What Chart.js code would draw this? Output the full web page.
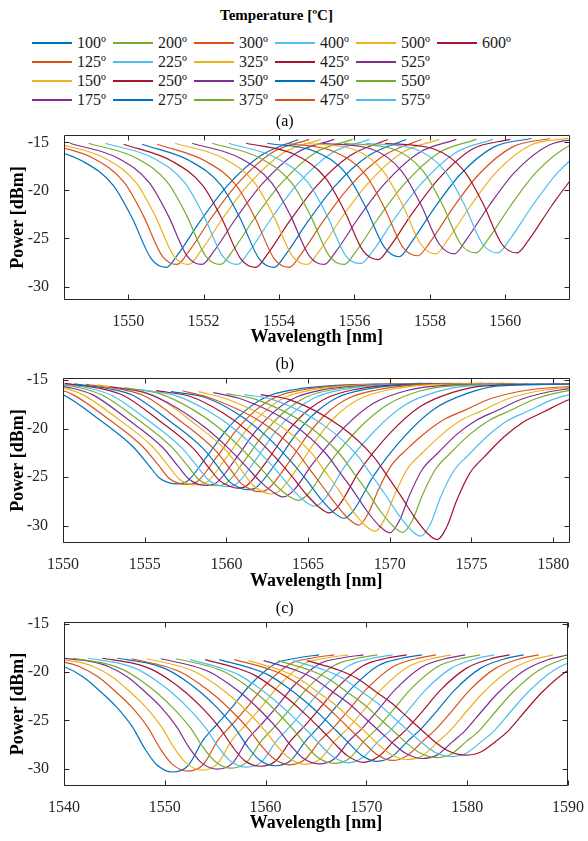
<!DOCTYPE html>
<html>
<head>
<meta charset="utf-8">
<script src="https://cdn.jsdelivr.net/npm/chart.js@4.4.1/dist/chart.umd.min.js"></script>
<style>
  body { margin: 0; width: 588px; height: 841px; background: #fff; position: relative; overflow: hidden;
         font-family: 'Liberation Serif', 'Times New Roman', serif; color: #000; }
  #legTitle { position: absolute; top: 5px; left: 0; width: 553px; text-align: center;
              font-weight: bold; font-size: 15px; line-height: 20px; }
  #legend { position: absolute; left: 32px; top: 33px; display: grid;
            grid-template-columns: repeat(6, 81px); grid-template-rows: repeat(4, 19px);
            grid-auto-flow: column; font-size: 16px; color: #1a1a1a; }
  .item { display: flex; align-items: center; white-space: nowrap; height: 19px; }
  .sw { width: 40px; height: 2px; margin-right: 5px; flex: none; position: relative; top: 0.5px; }
  canvas { position: absolute; left: 0; }
</style>
</head>
<body>
<div id="legTitle">Temperature [ºC]</div>
<div id="legend"></div>
<canvas id="chartA" width="588" height="239" style="top:109px"></canvas>
<canvas id="chartB" width="588" height="240" style="top:352px"></canvas>
<canvas id="chartC" width="588" height="238" style="top:596px"></canvas>
<script>
const temps = [100, 125, 150, 175, 200, 225, 250, 275, 300, 325, 350, 375, 400, 425, 450, 475, 500, 525, 550, 575, 600];
const colors = ['#0072BD', '#D95319', '#EDB120', '#7E2F8E', '#77AC30', '#4DBEEE', '#A2142F'];

// panel (a)
const aTicksX = [1550, 1552, 1554, 1556, 1558, 1560];
const aTicksY = [-30, -25, -20, -15];
const aWave = [
  [1547.51, 1548.81, 1549.61, 1550.11, 1550.61, 1551.01, 1551.31, 1551.91, 1552.61, 1553.51, 1554.51],
  [1547.80, 1549.10, 1549.90, 1550.40, 1550.90, 1551.30, 1551.60, 1552.20, 1552.90, 1553.80, 1554.80],
  [1548.11, 1549.41, 1550.21, 1550.71, 1551.21, 1551.61, 1551.91, 1552.51, 1553.21, 1554.11, 1555.11],
  [1548.46, 1549.76, 1550.56, 1551.06, 1551.56, 1551.96, 1552.26, 1552.86, 1553.56, 1554.46, 1555.46],
  [1548.95, 1550.25, 1551.05, 1551.55, 1552.05, 1552.45, 1552.75, 1553.35, 1554.05, 1554.95, 1555.95],
  [1549.40, 1550.70, 1551.50, 1552.00, 1552.50, 1552.90, 1553.20, 1553.80, 1554.50, 1555.40, 1556.40],
  [1549.88, 1551.18, 1551.98, 1552.48, 1552.98, 1553.38, 1553.68, 1554.28, 1554.98, 1555.88, 1556.88],
  [1550.37, 1551.67, 1552.47, 1552.97, 1553.47, 1553.87, 1554.17, 1554.77, 1555.47, 1556.37, 1557.37],
  [1550.77, 1552.07, 1552.87, 1553.37, 1553.87, 1554.27, 1554.57, 1555.17, 1555.87, 1556.77, 1557.77],
  [1551.25, 1552.55, 1553.35, 1553.85, 1554.35, 1554.75, 1555.05, 1555.65, 1556.35, 1557.25, 1558.25],
  [1551.70, 1553.00, 1553.80, 1554.30, 1554.80, 1555.20, 1555.50, 1556.10, 1556.80, 1557.70, 1558.70],
  [1552.23, 1553.53, 1554.33, 1554.83, 1555.33, 1555.73, 1556.03, 1556.63, 1557.33, 1558.23, 1559.23],
  [1552.67, 1553.97, 1554.77, 1555.27, 1555.77, 1556.17, 1556.47, 1557.07, 1557.77, 1558.67, 1559.67],
  [1553.13, 1554.43, 1555.23, 1555.73, 1556.23, 1556.63, 1556.93, 1557.53, 1558.23, 1559.13, 1560.13],
  [1553.69, 1554.99, 1555.79, 1556.29, 1556.79, 1557.19, 1557.49, 1558.09, 1558.79, 1559.69, 1560.69],
  [1554.18, 1555.48, 1556.28, 1556.78, 1557.28, 1557.68, 1557.98, 1558.58, 1559.28, 1560.18, 1561.18],
  [1554.66, 1555.96, 1556.76, 1557.26, 1557.76, 1558.16, 1558.46, 1559.06, 1559.76, 1560.66, 1561.66],
  [1555.15, 1556.45, 1557.25, 1557.75, 1558.25, 1558.65, 1558.95, 1559.55, 1560.25, 1561.15, 1562.15],
  [1555.72, 1557.02, 1557.82, 1558.32, 1558.82, 1559.22, 1559.52, 1560.12, 1560.82, 1561.72, 1562.72],
  [1556.30, 1557.60, 1558.40, 1558.90, 1559.40, 1559.80, 1560.10, 1560.70, 1561.40, 1562.30, 1563.30],
  [1556.81, 1558.11, 1558.91, 1559.41, 1559.91, 1560.31, 1560.61, 1561.21, 1561.91, 1562.81, 1563.81]
];
const aPower = [
  [-15.2, -17.0, -19.5, -22.9, -27.1, -28.0, -26.7, -23.2, -19.6, -16.4, -14.7],
  [-15.1, -16.7, -19.2, -22.6, -26.8, -27.7, -26.4, -22.9, -19.3, -16.1, -14.7],
  [-15.1, -16.7, -19.2, -22.6, -26.8, -27.7, -26.4, -22.9, -19.3, -16.1, -14.7],
  [-15.1, -16.7, -19.2, -22.6, -26.8, -27.7, -26.4, -22.9, -19.3, -16.1, -14.7],
  [-15.1, -16.7, -19.2, -22.6, -26.8, -27.7, -26.4, -22.9, -19.3, -16.1, -14.7],
  [-15.1, -16.7, -19.2, -22.6, -26.8, -27.7, -26.4, -22.9, -19.3, -16.1, -14.7],
  [-15.2, -17.0, -19.5, -22.9, -27.1, -28.0, -26.7, -23.2, -19.6, -16.4, -14.7],
  [-15.2, -17.0, -19.5, -22.9, -27.1, -28.0, -26.7, -23.2, -19.6, -16.4, -14.7],
  [-15.2, -17.0, -19.5, -22.9, -27.1, -28.0, -26.7, -23.2, -19.6, -16.4, -14.7],
  [-15.1, -16.7, -19.2, -22.6, -26.8, -27.7, -26.4, -22.9, -19.3, -16.1, -14.7],
  [-15.1, -16.7, -19.2, -22.6, -26.8, -27.7, -26.4, -22.9, -19.3, -16.1, -14.7],
  [-15.1, -16.7, -19.2, -22.6, -26.8, -27.7, -26.4, -22.9, -19.3, -16.1, -14.7],
  [-15.1, -16.7, -19.2, -22.6, -26.8, -27.6, -26.4, -22.9, -19.3, -16.1, -14.7],
  [-15.1, -16.3, -18.7, -22.1, -26.3, -27.2, -25.9, -22.4, -18.8, -15.7, -14.7],
  [-15.1, -16.0, -18.3, -21.7, -25.9, -26.9, -25.5, -22.0, -18.4, -15.5, -14.6],
  [-15.1, -16.0, -18.3, -21.7, -25.9, -26.8, -25.5, -22.0, -18.4, -15.5, -14.6],
  [-15.1, -15.7, -18.0, -21.4, -25.6, -26.6, -25.2, -21.7, -18.1, -15.3, -14.6],
  [-15.1, -15.7, -18.0, -21.4, -25.6, -26.6, -25.2, -21.7, -18.1, -15.3, -14.6],
  [-15.1, -15.7, -18.0, -21.4, -25.6, -26.5, -25.2, -21.7, -18.1, -15.3, -14.6],
  [-15.1, -15.7, -18.0, -21.4, -25.6, -26.5, -25.2, -21.7, -18.1, -15.3, -14.6],
  [-15.1, -15.7, -18.0, -21.4, -25.6, -26.5, -25.2, -21.7, -18.1, -15.3, -14.6]
];

// panel (b)
const bTicksX = [1550, 1555, 1560, 1565, 1570, 1575, 1580];
const bTicksY = [-30, -25, -20, -15];
const bWave = [
  [1546.4, 1548.5, 1550.0, 1552.2, 1554.3, 1555.3, 1555.9, 1556.5, 1557.0, 1557.5, 1558.8, 1560.0, 1561.2, 1562.5, 1564.1, 1566.7, 1572.0],
  [1547.0, 1549.1, 1550.6, 1552.8, 1554.9, 1555.9, 1556.5, 1557.1, 1557.6, 1558.1, 1559.4, 1560.6, 1561.8, 1563.1, 1564.7, 1567.3, 1572.6],
  [1547.6, 1549.7, 1551.2, 1553.4, 1555.5, 1556.5, 1557.1, 1557.7, 1558.2, 1558.7, 1560.0, 1561.2, 1562.4, 1563.7, 1565.3, 1567.9, 1573.2],
  [1548.2, 1550.3, 1551.8, 1554.0, 1556.1, 1557.1, 1557.7, 1558.3, 1558.8, 1559.3, 1560.6, 1561.8, 1563.0, 1564.3, 1565.9, 1568.5, 1573.8],
  [1548.8, 1550.9, 1552.4, 1554.6, 1556.7, 1557.7, 1558.3, 1558.9, 1559.4, 1559.9, 1561.2, 1562.4, 1563.6, 1564.9, 1566.5, 1569.1, 1574.4],
  [1549.4, 1551.5, 1553.0, 1555.2, 1557.3, 1558.3, 1558.9, 1559.5, 1560.0, 1560.5, 1561.8, 1563.0, 1564.2, 1565.5, 1567.1, 1569.7, 1575.0],
  [1550.1, 1552.2, 1553.7, 1555.9, 1558.0, 1559.0, 1559.6, 1560.2, 1560.7, 1561.2, 1562.5, 1563.7, 1564.9, 1566.2, 1567.8, 1570.4, 1575.7],
  [1550.7, 1552.8, 1554.3, 1556.5, 1558.6, 1559.6, 1560.2, 1560.8, 1561.3, 1561.8, 1563.1, 1564.3, 1565.5, 1566.8, 1568.4, 1571.0, 1576.3],
  [1551.4, 1553.5, 1555.0, 1557.2, 1559.3, 1560.3, 1560.9, 1561.5, 1562.0, 1562.5, 1563.8, 1565.0, 1566.2, 1567.5, 1569.1, 1571.7, 1577.0],
  [1552.1, 1554.2, 1555.7, 1557.9, 1560.0, 1561.0, 1561.6, 1562.2, 1562.7, 1563.2, 1564.5, 1565.7, 1566.9, 1568.2, 1569.8, 1572.4, 1577.7],
  [1552.9, 1555.0, 1557.0, 1558.7, 1560.1, 1561.2, 1562.1, 1562.9, 1563.5, 1564.1, 1565.3, 1567.2, 1569.0, 1571.0, 1573.0, 1578.5],
  [1553.8, 1555.9, 1557.9, 1559.6, 1561.0, 1562.1, 1563.0, 1563.8, 1564.4, 1565.0, 1566.2, 1568.1, 1569.9, 1571.9, 1573.9, 1579.4],
  [1554.8, 1556.9, 1558.9, 1560.6, 1562.0, 1563.1, 1564.0, 1564.8, 1565.4, 1566.0, 1567.2, 1569.1, 1570.9, 1572.9, 1574.9, 1580.4],
  [1555.7, 1557.8, 1559.8, 1561.5, 1562.9, 1564.0, 1564.9, 1565.7, 1566.3, 1566.9, 1568.1, 1570.0, 1571.8, 1573.8, 1575.8, 1581.3],
  [1556.6, 1558.7, 1560.7, 1562.4, 1563.8, 1564.9, 1565.8, 1566.6, 1567.2, 1567.8, 1569.0, 1570.9, 1572.7, 1574.7, 1576.7, 1582.2],
  [1557.3, 1559.1, 1562.2, 1564.2, 1565.1, 1565.9, 1566.7, 1567.5, 1568.1, 1568.7, 1569.3, 1570.1, 1571.0, 1572.2, 1573.4, 1574.6, 1576.2, 1578.6, 1583.1],
  [1558.3, 1560.1, 1563.2, 1565.2, 1566.1, 1566.9, 1567.7, 1568.5, 1569.1, 1569.7, 1570.3, 1571.1, 1572.0, 1573.2, 1574.4, 1575.6, 1577.2, 1579.6, 1584.1],
  [1559.2, 1561.0, 1564.1, 1566.1, 1567.0, 1567.8, 1568.6, 1569.4, 1570.0, 1570.6, 1571.2, 1572.0, 1572.9, 1574.1, 1575.3, 1576.5, 1578.1, 1580.5, 1585.0],
  [1560.0, 1561.8, 1564.9, 1566.9, 1567.8, 1568.6, 1569.4, 1570.2, 1570.8, 1571.4, 1572.0, 1572.8, 1573.7, 1574.9, 1576.1, 1577.3, 1578.9, 1581.3, 1585.8],
  [1561.1, 1562.9, 1566.0, 1568.0, 1568.9, 1569.7, 1570.5, 1571.3, 1571.9, 1572.5, 1573.1, 1573.9, 1574.8, 1576.0, 1577.2, 1578.4, 1580.0, 1582.4, 1586.9],
  [1562.1, 1563.9, 1567.0, 1569.0, 1569.9, 1570.7, 1571.5, 1572.3, 1572.9, 1573.5, 1574.1, 1574.9, 1575.8, 1577.0, 1578.2, 1579.4, 1581.0, 1583.4, 1587.9]
];
const bPower = [
  [-15.2, -15.7, -16.5, -19.05, -21.9, -23.9, -25.1, -25.6, -25.7, -25.55, -22.9, -20.15, -18.1, -16.7, -16.0, -15.55, -15.35],
  [-15.2, -15.7, -16.5, -19.05, -21.9, -23.9, -25.15, -25.65, -25.75, -25.6, -22.95, -20.2, -18.1, -16.7, -16.0, -15.55, -15.35],
  [-15.2, -15.7, -16.5, -19.05, -21.9, -23.95, -25.2, -25.7, -25.8, -25.65, -23.0, -20.2, -18.15, -16.7, -16.0, -15.55, -15.35],
  [-15.25, -15.75, -16.5, -19.1, -21.95, -24.0, -25.2, -25.75, -25.85, -25.7, -23.05, -20.25, -18.15, -16.75, -16.0, -15.55, -15.35],
  [-15.25, -15.75, -16.55, -19.1, -22.0, -24.0, -25.25, -25.8, -25.9, -25.75, -23.1, -20.3, -18.2, -16.75, -16.0, -15.55, -15.35],
  [-15.3, -15.8, -16.6, -19.15, -22.05, -24.1, -25.3, -25.85, -26.0, -25.85, -23.2, -20.35, -18.2, -16.75, -16.0, -15.5, -15.35],
  [-15.35, -15.85, -16.6, -19.2, -22.1, -24.2, -25.4, -25.95, -26.15, -25.95, -23.3, -20.4, -18.25, -16.8, -16.0, -15.5, -15.35],
  [-15.4, -15.9, -16.6, -19.2, -22.1, -24.2, -25.5, -26.1, -26.3, -26.1, -23.4, -20.5, -18.3, -16.8, -16.0, -15.5, -15.35],
  [-15.45, -15.95, -16.65, -19.25, -22.2, -24.35, -25.65, -26.3, -26.5, -26.3, -23.55, -20.6, -18.35, -16.85, -16.05, -15.5, -15.35],
  [-15.5, -16.0, -16.7, -19.3, -22.3, -24.5, -25.8, -26.5, -26.75, -26.5, -23.7, -20.7, -18.4, -16.9, -16.05, -15.5, -15.35],
  [-15.7, -16.3, -17.9, -19.9, -22.0, -23.9, -25.5, -26.6, -27.05, -26.4, -23.6, -19.9, -17.4, -16.1, -15.6, -15.4],
  [-15.8, -16.4, -18.0, -20.0, -22.2, -24.1, -25.8, -26.95, -27.4, -26.75, -23.8, -20.0, -17.5, -16.1, -15.6, -15.4],
  [-16.0, -16.6, -18.2, -20.2, -22.4, -24.4, -26.2, -27.5, -28.0, -27.3, -24.0, -20.2, -17.6, -16.2, -15.6, -15.4],
  [-16.1, -16.7, -18.4, -20.5, -22.8, -24.9, -26.8, -28.15, -28.7, -27.9, -24.5, -20.5, -17.8, -16.3, -15.6, -15.4],
  [-16.2, -16.8, -18.5, -20.7, -23.1, -25.3, -27.3, -28.7, -29.25, -28.4, -24.9, -20.8, -18.0, -16.4, -15.6, -15.4],
  [-16.1, -16.9, -19.4, -22.2, -24.2, -26.0, -27.8, -29.35, -29.95, -28.7, -26.3, -23.8, -22.2, -20.4, -19.0, -18.1, -16.9, -16.0, -15.5],
  [-16.2, -17.0, -19.6, -22.5, -24.55, -26.4, -28.4, -30.0, -30.6, -29.3, -26.8, -24.1, -22.5, -20.6, -19.1, -18.2, -16.95, -16.0, -15.5],
  [-16.3, -17.0, -19.6, -22.6, -24.65, -26.5, -28.5, -30.1, -30.75, -29.45, -26.9, -24.2, -22.6, -20.6, -19.15, -18.2, -16.95, -16.0, -15.5],
  [-16.4, -17.0, -19.6, -22.55, -24.6, -26.45, -28.45, -30.05, -30.7, -29.4, -26.85, -24.2, -22.55, -20.6, -19.15, -18.2, -16.95, -16.0, -15.5],
  [-16.5, -17.05, -19.7, -22.75, -24.85, -26.75, -28.8, -30.45, -31.1, -29.8, -27.1, -24.4, -22.75, -20.75, -19.2, -18.25, -17.0, -16.0, -15.55],
  [-16.5, -17.05, -19.8, -22.9, -25.0, -27.0, -29.1, -30.8, -31.45, -30.1, -27.4, -24.6, -22.9, -20.85, -19.3, -18.3, -17.0, -16.0, -15.6]
];

// panel (c)
const cTicksX = [1540, 1550, 1560, 1570, 1580, 1590];
const cTicksY = [-30, -25, -20, -15];
const cWave = [
  [1535.1, 1538.3, 1540.0, 1541.9, 1543.5, 1545.2, 1546.8, 1548.0, 1549.2, 1550.8, 1552.3, 1553.8, 1555.1, 1556.7, 1558.4, 1561.0, 1563.3, 1565.3],
  [1536.6, 1539.8, 1541.5, 1543.4, 1545.0, 1546.7, 1548.3, 1549.5, 1550.7, 1552.3, 1553.8, 1555.3, 1556.6, 1558.2, 1559.9, 1562.5, 1564.8, 1566.8],
  [1538.0, 1541.2, 1542.9, 1544.8, 1546.4, 1548.1, 1549.7, 1550.9, 1552.1, 1553.7, 1555.2, 1556.7, 1558.0, 1559.6, 1561.3, 1563.9, 1566.2, 1568.2],
  [1539.5, 1542.7, 1544.4, 1546.3, 1547.9, 1549.6, 1551.2, 1552.4, 1553.6, 1555.2, 1556.7, 1558.2, 1559.5, 1561.1, 1562.8, 1565.4, 1567.7, 1569.7],
  [1540.9, 1544.1, 1545.8, 1547.7, 1549.3, 1551.0, 1552.6, 1553.8, 1555.0, 1556.6, 1558.1, 1559.6, 1560.9, 1562.5, 1564.2, 1566.8, 1569.1, 1571.1],
  [1542.4, 1545.6, 1547.3, 1549.2, 1550.8, 1552.5, 1554.1, 1555.3, 1556.5, 1558.1, 1559.6, 1561.1, 1562.4, 1564.0, 1565.7, 1568.3, 1570.6, 1572.6],
  [1543.8, 1547.0, 1548.7, 1550.6, 1552.2, 1553.9, 1555.5, 1556.7, 1557.9, 1559.5, 1561.0, 1562.5, 1563.8, 1565.4, 1567.1, 1569.7, 1572.0, 1574.0],
  [1545.3, 1548.5, 1550.2, 1552.1, 1553.7, 1555.4, 1557.0, 1558.2, 1559.4, 1561.0, 1562.5, 1564.0, 1565.3, 1566.9, 1568.6, 1571.2, 1573.5, 1575.5],
  [1546.7, 1549.9, 1551.6, 1553.5, 1555.1, 1556.8, 1558.4, 1559.6, 1560.8, 1562.4, 1563.9, 1565.4, 1566.7, 1568.3, 1570.0, 1572.6, 1574.9, 1576.9],
  [1548.2, 1551.4, 1553.1, 1555.0, 1556.6, 1558.3, 1559.9, 1561.1, 1562.3, 1563.9, 1565.4, 1566.9, 1568.2, 1569.8, 1571.5, 1574.1, 1576.4, 1578.4],
  [1549.6, 1552.8, 1554.5, 1556.4, 1558.0, 1559.7, 1561.3, 1562.5, 1563.7, 1565.3, 1566.8, 1568.3, 1569.6, 1571.2, 1572.9, 1575.5, 1577.8, 1579.8],
  [1551.1, 1554.3, 1556.0, 1557.9, 1559.5, 1561.2, 1562.8, 1564.0, 1565.2, 1566.8, 1568.3, 1569.8, 1571.1, 1572.7, 1574.4, 1577.0, 1579.3, 1581.3],
  [1552.5, 1555.7, 1557.4, 1559.3, 1560.9, 1562.6, 1564.2, 1565.4, 1566.6, 1568.2, 1569.7, 1571.2, 1572.5, 1574.1, 1575.8, 1578.4, 1580.7, 1582.7],
  [1554.0, 1557.2, 1558.9, 1560.8, 1562.4, 1564.1, 1565.7, 1566.9, 1568.1, 1569.7, 1571.2, 1572.7, 1574.0, 1575.6, 1577.3, 1579.9, 1582.2, 1584.2],
  [1555.4, 1558.6, 1560.3, 1562.2, 1563.8, 1565.5, 1567.1, 1568.3, 1569.5, 1571.1, 1572.6, 1574.1, 1575.4, 1577.0, 1578.7, 1581.3, 1583.6, 1585.6],
  [1556.9, 1560.1, 1561.8, 1563.7, 1565.3, 1567.0, 1568.6, 1569.8, 1571.0, 1572.6, 1574.1, 1575.6, 1576.9, 1578.5, 1580.2, 1582.8, 1585.1, 1587.1],
  [1558.3, 1561.5, 1563.2, 1565.1, 1566.7, 1568.4, 1570.0, 1571.2, 1572.4, 1574.0, 1575.5, 1577.0, 1578.3, 1579.9, 1581.6, 1584.2, 1586.5, 1588.5],
  [1559.8, 1563.0, 1564.7, 1566.6, 1568.2, 1569.9, 1571.5, 1572.7, 1573.9, 1575.5, 1577.0, 1578.5, 1579.8, 1581.4, 1583.1, 1585.7, 1588.0, 1590.0],
  [1561.2, 1564.4, 1566.1, 1568.0, 1569.6, 1571.3, 1572.9, 1574.1, 1575.3, 1576.9, 1578.4, 1579.9, 1581.2, 1582.8, 1584.5, 1587.1, 1589.4, 1591.4],
  [1562.7, 1565.9, 1567.6, 1569.5, 1571.1, 1572.8, 1574.4, 1575.6, 1576.8, 1578.4, 1579.9, 1581.4, 1582.7, 1584.3, 1586.0, 1588.6, 1590.9, 1592.9],
  [1564.1, 1567.3, 1569.0, 1570.9, 1572.5, 1574.2, 1575.8, 1577.0, 1578.2, 1579.8, 1581.3, 1582.8, 1584.1, 1585.7, 1587.4, 1590.0, 1592.3, 1594.3]
];
const cPower = [
  [-18.5, -18.9, -19.4, -20.5, -21.9, -23.6, -25.7, -27.9, -29.6, -30.35, -29.7, -27.05, -25.5, -23.6, -21.4, -19.1, -18.5, -18.2],
  [-18.5, -18.9, -19.4, -20.5, -21.9, -23.6, -25.7, -27.85, -29.5, -30.25, -29.6, -27.0, -25.5, -23.6, -21.4, -19.1, -18.5, -18.2],
  [-18.5, -18.9, -19.4, -20.5, -21.9, -23.6, -25.7, -27.8, -29.4, -30.15, -29.5, -27.0, -25.5, -23.6, -21.4, -19.1, -18.5, -18.2],
  [-18.5, -18.9, -19.4, -20.5, -21.9, -23.6, -25.7, -27.8, -29.35, -30.05, -29.45, -27.0, -25.5, -23.6, -21.4, -19.1, -18.5, -18.2],
  [-18.55, -19.1, -19.7, -20.9, -22.2, -23.9, -25.85, -27.8, -29.25, -29.95, -29.35, -27.1, -25.65, -23.7, -21.6, -19.3, -18.55, -18.2],
  [-18.55, -19.1, -19.7, -20.9, -22.2, -23.9, -25.85, -27.75, -29.2, -29.85, -29.3, -27.1, -25.65, -23.7, -21.6, -19.3, -18.55, -18.2],
  [-18.55, -19.1, -19.7, -20.9, -22.2, -23.9, -25.85, -27.7, -29.15, -29.75, -29.2, -27.1, -25.65, -23.7, -21.6, -19.3, -18.55, -18.2],
  [-18.55, -19.1, -19.7, -20.9, -22.2, -23.9, -25.85, -27.7, -29.1, -29.7, -29.15, -27.1, -25.65, -23.7, -21.6, -19.3, -18.55, -18.2],
  [-18.6, -19.35, -20.0, -21.25, -22.55, -24.2, -26.0, -27.65, -28.95, -29.6, -29.05, -27.1, -25.8, -23.85, -21.75, -19.45, -18.6, -18.2],
  [-18.6, -19.35, -20.0, -21.25, -22.55, -24.2, -26.0, -27.6, -28.9, -29.55, -29.0, -27.1, -25.8, -23.85, -21.75, -19.45, -18.6, -18.2],
  [-18.6, -19.35, -20.0, -21.25, -22.55, -24.2, -26.0, -27.6, -28.9, -29.5, -29.0, -27.1, -25.8, -23.85, -21.75, -19.45, -18.6, -18.2],
  [-18.6, -19.35, -20.0, -21.25, -22.55, -24.2, -26.0, -27.55, -28.85, -29.45, -28.95, -27.1, -25.8, -23.85, -21.75, -19.45, -18.6, -18.2],
  [-18.7, -19.6, -20.3, -21.6, -22.9, -24.5, -26.15, -27.5, -28.7, -29.4, -28.8, -27.15, -25.9, -24.0, -21.9, -19.6, -18.65, -18.2],
  [-18.7, -19.6, -20.3, -21.6, -22.9, -24.5, -26.15, -27.45, -28.65, -29.35, -28.75, -27.15, -25.9, -24.0, -21.9, -19.6, -18.65, -18.2],
  [-18.7, -19.6, -20.3, -21.6, -22.9, -24.5, -26.15, -27.4, -28.6, -29.25, -28.7, -27.15, -25.9, -24.0, -21.9, -19.6, -18.65, -18.2],
  [-18.7, -19.6, -20.3, -21.6, -22.9, -24.5, -26.15, -27.35, -28.5, -29.15, -28.6, -27.15, -25.9, -24.0, -21.9, -19.6, -18.65, -18.2],
  [-18.8, -19.8, -20.6, -22.0, -23.2, -24.8, -26.3, -27.5, -28.5, -29.05, -28.7, -27.3, -26.05, -24.1, -22.1, -19.8, -18.7, -18.2],
  [-18.8, -19.8, -20.6, -22.0, -23.2, -24.8, -26.3, -27.45, -28.4, -28.95, -28.6, -27.25, -26.05, -24.1, -22.1, -19.8, -18.7, -18.2],
  [-18.8, -19.8, -20.6, -22.0, -23.2, -24.8, -26.3, -27.45, -28.35, -28.85, -28.5, -27.2, -26.05, -24.1, -22.1, -19.8, -18.7, -18.2],
  [-18.8, -19.8, -20.6, -22.0, -23.2, -24.8, -26.3, -27.4, -28.3, -28.75, -28.4, -27.2, -26.05, -24.1, -22.1, -19.8, -18.7, -18.2],
  [-18.8, -19.8, -20.6, -22.0, -23.2, -24.8, -26.3, -27.4, -28.2, -28.6, -28.3, -27.2, -26.05, -24.1, -22.1, -19.8, -18.7, -18.2]
];

const serif = "'Liberation Serif', 'Times New Roman', serif";
const ink = '#262626';

// legend (column-major, 4 rows)
const legend = document.getElementById('legend');
temps.forEach((t, i) => {
  const item = document.createElement('div');
  item.className = 'item';
  const sw = document.createElement('span');
  sw.className = 'sw';
  sw.style.background = colors[i % 7];
  item.appendChild(sw);
  item.appendChild(document.createTextNode(t + 'º'));
  legend.appendChild(item);
});

// MATLAB-style box with inward ticks on all four sides
const frame = {
  id: 'frame',
  afterDraw(chart) {
    const { ctx, chartArea, scales: { x, y } } = chart;
    const L = Math.round(chartArea.left) + 0.5, R = Math.round(chartArea.right) - 0.5;
    const T = Math.round(chartArea.top) + 0.5, B = Math.round(chartArea.bottom) - 0.5;
    ctx.save();
    ctx.strokeStyle = ink;
    ctx.lineWidth = 1;
    ctx.beginPath();
    ctx.rect(L, T, R - L, B - T);
    x.ticks.forEach(t => {
      const px = Math.round(x.getPixelForValue(t.value)) + 0.5;
      ctx.moveTo(px, B); ctx.lineTo(px, B - 5);
      ctx.moveTo(px, T); ctx.lineTo(px, T + 5);
    });
    y.ticks.forEach(t => {
      const py = Math.round(y.getPixelForValue(t.value)) + 0.5;
      ctx.moveTo(L, py); ctx.lineTo(L + 5, py);
      ctx.moveTo(R, py); ctx.lineTo(R - 5, py);
    });
    ctx.stroke();
    ctx.restore();
  }
};

function panel(id, label, wave, power, xRange, xTicks, yRange, yTicks, yWidth, xHeight) {
  return new Chart(document.getElementById(id), {
    type: 'line',
    data: {
      datasets: temps.map((t, i) => ({
        label: t + 'º',
        data: wave[i].map((w, j) => ({ x: w, y: power[i][j] })),
        borderColor: colors[i % 7],
        borderWidth: 1.2,
        pointRadius: 0,
        fill: false,
        cubicInterpolationMode: 'monotone',
        order: temps.length - i
      }))
    },
    options: {
      responsive: false,
      animation: false,
      events: [],
      layout: { padding: { left: 0, right: 18.5, top: 0, bottom: 0 } },
      plugins: {
        legend: { display: false },
        tooltip: { enabled: false },
        title: {
          display: true, text: label, color: '#000',
          font: { family: serif, size: 16, weight: 'normal' },
          padding: { top: 3.4, bottom: 3.5 }
        }
      },
      scales: {
        x: {
          type: 'linear', min: xRange[0], max: xRange[1],
          grid: { display: false }, border: { display: false },
          afterBuildTicks: s => { s.ticks = xTicks.map(v => ({ value: v })); },
          afterFit: s => { s.height = xHeight; },
          ticks: { callback: v => String(v), color: ink, font: { family: serif, size: 16 },
                   padding: 4, maxRotation: 0, autoSkip: false },
          title: { display: true, text: 'Wavelength [nm]', color: '#000',
                   font: { family: serif, size: 18, weight: 'bold' }, padding: 0 }
        },
        y: {
          type: 'linear', min: yRange[0], max: yRange[1],
          grid: { display: false }, border: { display: false },
          afterBuildTicks: s => { s.ticks = yTicks.map(v => ({ value: v })); },
          afterFit: s => { s.width = yWidth; },
          ticks: { callback: v => String(v), color: ink, font: { family: serif, size: 16 },
                   padding: 7, autoSkip: false },
          title: { display: true, text: 'Power [dBm]', color: '#000',
                   font: { family: serif, size: 18, weight: 'bold' }, padding: { top: 7.5, bottom: 0 } }
        }
      }
    },
    plugins: [frame]
  });
}

panel('chartA', '(a)', aWave, aPower, [1548.3, 1561.7], aTicksX, [-31.4, -14.25], aTicksY, 64, 48);
panel('chartB', '(b)', bWave, bPower, [1550, 1581], bTicksX, [-31.8, -14.8], bTicksY, 63, 49);
panel('chartC', '(c)', cWave, cPower, [1540, 1590], cTicksX, [-31.8, -14.8], cTicksY, 64, 48);
</script>
</body>
</html>
